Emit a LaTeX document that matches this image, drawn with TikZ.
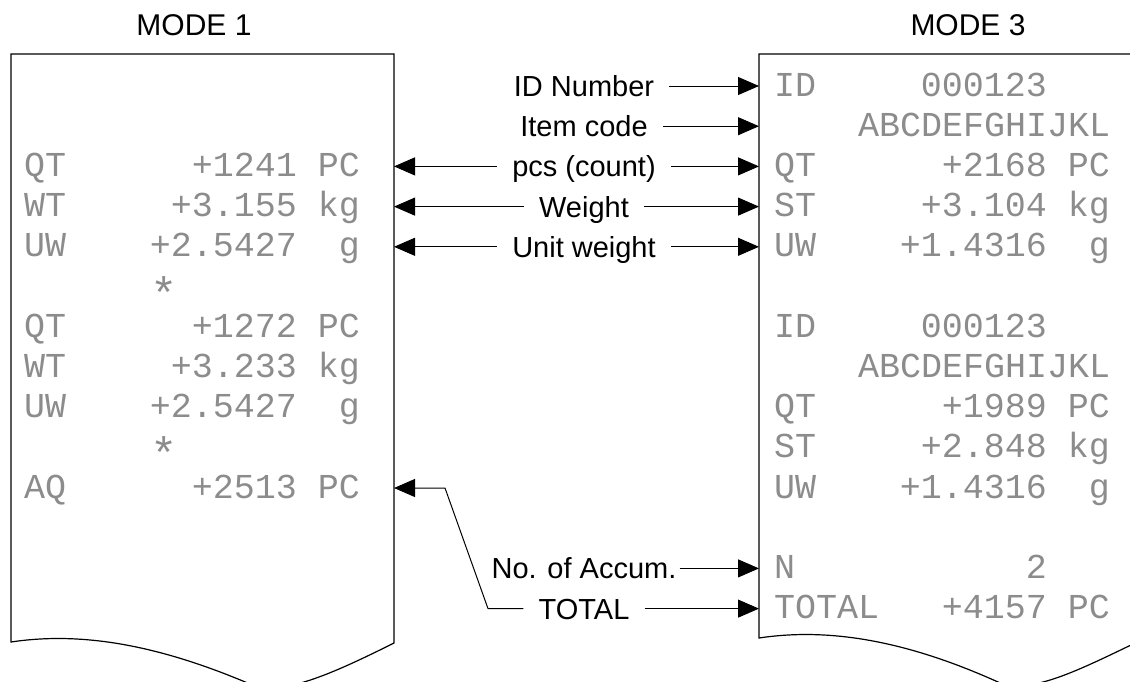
\documentclass[tikz,border=0pt]{standalone}
\usepackage{fontspec}
\setmainfont{Liberation Sans}
\setmonofont{Liberation Mono}
\usetikzlibrary{arrows.meta,positioning}

\tikzset{
  paper/.style={line width=1.2pt},
  title/.style={font=\fontsize{30}{36}\selectfont},
  lbl/.style={font=\fontsize{29}{34}\selectfont, inner xsep=15pt, inner ysep=0pt,
    text height=21pt, text depth=0pt},
  prt/.style={font=\fontsize{35}{40}\selectfont\ttfamily, text=black!45, inner sep=0pt,
    text height=20pt, text depth=0pt},
  arr/.style={-{Triangle[length=21pt,width=18pt]}, line width=1pt},
}

\begin{document}
\begin{tikzpicture}[x=1pt,y=-1pt]
  \useasboundingbox (0,0) rectangle (1130,681);
  % the two print-outs
  \draw[paper] (11,642) -- (11,54) -- (394,54) -- (394,643)
    .. controls (330,675) and (280,697) .. (250,684)
    .. controls (170,650) and (90,630) .. cycle;
  \draw[paper] (1131,645) -- (1131,54) -- (759,54) -- (759,638)
    .. controls (838,626) and (918,646) .. (998,682)
    .. controls (1028,695) and (1075,672) .. (1131,645);
  \node[title] (mode1) at (194,25) {MODE 1};
  \node[title] (mode3) at (968,25) {MODE 3};

  % MODE 1 lines (col width 21)
  \foreach \k/\key/\val/\unit in {2/QT/+1241/PC, 3/WT/+3.155/kg, 4/UW/+2.5427/g,
      6/QT/+1272/PC, 7/WT/+3.233/kg, 8/UW/+2.5427/g, 10/AQ/+2513/PC} {
    \node[prt, anchor=west] (Lkey\k) at (24,{86+40.2*\k}) {\key};
    \node[prt, anchor=east] (Lval\k) at (297,{86+40.2*\k}) {\val};
    \node[prt, anchor=east] (Lunit\k) at (360,{86+40.2*\k}) {\unit};
  }
  \foreach \k in {5,9}
    \node[prt, anchor=west, yshift=-9pt, scale=1.3] (Lstar\k) at (150,{86+40.2*\k}) {*};

  % MODE 3 lines
  \foreach \k/\key/\val/\unit in {2/QT/+2168/PC, 3/ST/+3.104/kg, 4/UW/+1.4316/g,
      8/QT/+1989/PC, 9/ST/+2.848/kg, 10/UW/+1.4316/g, 13/TOTAL/+4157/PC} {
    \node[prt, anchor=west] (Rkey\k) at (774,{86+40.2*\k}) {\key};
    \node[prt, anchor=east] (Rval\k) at (1047,{86+40.2*\k}) {\val};
    \node[prt, anchor=east] (Runit\k) at (1110,{86+40.2*\k}) {\unit};
  }
  \foreach \k in {0,6} {
    \node[prt, anchor=west] (Rkey\k) at (774,{86+40.2*\k}) {ID};
    \node[prt, anchor=east] (Rval\k) at (1047,{86+40.2*\k}) {000123};
  }
  \foreach \k in {1,7}
    \node[prt, anchor=west] (Rcode\k) at (858,{86+40.2*\k}) {ABCDEFGHIJKL};
  \node[prt, anchor=west] (Rkey12) at (774,{86+40.2*12}) {N};
  \node[prt, anchor=east] (Rval12) at (1047,{86+40.2*12}) {2};

  % edge points
  \foreach \k in {0,1,2,3,4,12,13}
    \coordinate (r\k) at (759,{86+40.2*\k});
  \foreach \k in {2,3,4,10}
    \coordinate (l\k) at (394,{86+40.2*\k});

  % labels
  \node[lbl] (lab0) at (584,{86+40.2*0}) {ID Number};
  \node[lbl] (lab1) at (584,{86+40.2*1}) {Item code};
  \node[lbl] (lab2) at (584,{86+40.2*2}) {pcs (count)};
  \node[lbl] (lab3) at (584,{86+40.2*3}) {Weight};
  \node[lbl] (lab4) at (584,{86+40.2*4}) {Unit weight};
  \node[lbl, inner xsep=3pt] (lab12) at (584,{86+40.2*12}) {No. of Accum.};
  \node[lbl] (lab13) at (584,{86+40.2*13}) {TOTAL};

  \foreach \k in {0,1,2,3,4,12,13}
    \draw[arr] (lab\k) -- (r\k);
  \foreach \k in {2,3,4}
    \draw[arr] (lab\k) -- (l\k);
  \coordinate (bendA) at (488,{86+40.2*13});
  \coordinate (bendB) at (445,{86+40.2*10});
  \draw[arr] (lab13.west) -- (bendA) -- (bendB) -- (l10);
\end{tikzpicture}
\end{document}
